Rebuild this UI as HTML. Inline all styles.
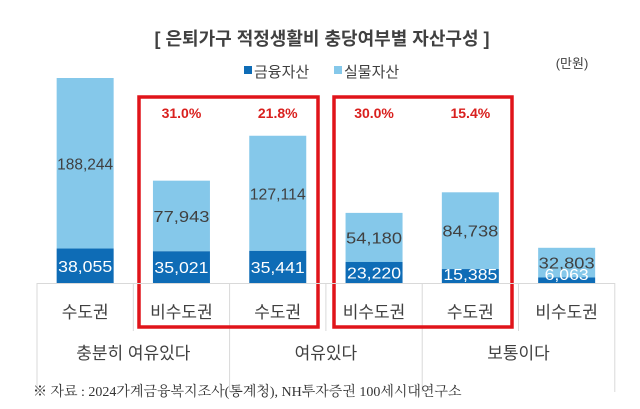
<!DOCTYPE html>
<html><head><meta charset="utf-8"><style>
body{margin:0;background:#fff;font-family:"Liberation Sans","Noto Sans CJK KR",sans-serif;}
#wrap{position:relative;width:640px;height:409px;overflow:hidden;}
</style></head><body>
<div id="wrap">
<svg id="svg" width="640" height="409">
<text x="322" y="45" text-anchor="middle" font-size="18" font-weight="bold" fill="#404040">[ 은퇴가구 적정생활비 충당여부별 자산구성 ]</text>
<text x="572" y="68" text-anchor="middle" font-size="13" fill="#404040">(만원)</text>
<g>
<rect x="244" y="66" width="8" height="8" fill="#0e6cb6"/>
<text x="254" y="77" font-size="15" fill="#404040">금융자산</text>
<rect x="334" y="66" width="8" height="8" fill="#85c8ea"/>
<text x="344" y="77" font-size="15" fill="#404040">실물자산</text>
</g>
<g id="bars"></g>
<g id="axis" stroke="#d9d9d9" stroke-width="1">
<line x1="37" y1="283.5" x2="615" y2="283.5"/>
</g>
<text x="33" y="396" font-size="14" fill="#333" font-family="'Liberation Serif','Noto Serif CJK SC',serif">※ 자료 : 2024가계금융복지조사(통계청), NH투자증권 100세시대연구소</text>
</svg>
</div>
<script>
const regions=["수도권","비수도권","수도권","비수도권","수도권","비수도권"];
const groups=["충분히 여유있다","여유있다","보통이다"];
const financial=[38055,35021,35441,23220,15385,6063];
const realAssets=[188244,77943,127114,54180,84738,32803];
const percents=["","31.0%","21.8%","30.0%","15.4%",""];
const NS="http://www.w3.org/2000/svg";
const svg=document.getElementById('bars');
const base=283, scale=205/226299, x0=37, colW=96.3, barW=57;
const y=v=>base-v*scale;
function mk(t,a){const e=document.createElementNS(NS,t);for(const k in a)e.setAttribute(k,a[k]);svg.appendChild(e);return e;}
const fmt=v=>v.toLocaleString('en-US');
regions.forEach((r,i)=>{
 const cx=x0+colW*(i+0.5), bx=cx-barW/2;
 const yf=y(financial[i]), yt=y(financial[i]+realAssets[i]);
 let e=mk('rect',{x:bx,y:yt,width:barW,height:yf-yt,fill:'#85c8ea'});
 
 
 e=mk('rect',{x:bx,y:yf,width:barW,height:base-yf,fill:'#0e6cb6'});
 
 
 e=mk('text',{x:cx,y:(yt+yf)/2+6,'text-anchor':'middle','font-size':16,fill:'#404040','textLength':56,'lengthAdjust':'spacingAndGlyphs'});
 e.textContent=fmt(realAssets[i]);
 
 
 e=mk('text',{x:cx,y:Math.min((yf+base)/2+6,base-3),'text-anchor':'middle','font-size':16,fill:'#fff','textLength':(financial[i]<10000?44:54),'lengthAdjust':'spacingAndGlyphs'});
 e.textContent=fmt(financial[i]);
 
 
 e=mk('text',{x:cx,y:318,'text-anchor':'middle','font-size':17,fill:'#404040'});
 e.textContent=r;
 
 
 if(percents[i]){
  e=mk('text',{x:cx,y:118,'text-anchor':'middle','font-size':14,'font-weight':'bold',fill:'#d9201e'});
  e.textContent=percents[i];
  
  
 }
 if(i>0){
  const gl=(i%2==0);
  e=mk('line',{x1:x0+colW*i,y1:283,x2:x0+colW*i,y2:gl?392:331,stroke:'#d9d9d9'});
  
  
 }
});
[0,6].forEach(k=>{const e=mk('line',{x1:x0+colW*k,y1:283,x2:x0+colW*k,y2:392,stroke:'#d9d9d9'});
 
 });
groups.forEach((g,j)=>{
 const e=mk('text',{x:x0+colW*(2*j+1),y:359,'text-anchor':'middle','font-size':17,fill:'#404040'});
 e.textContent=g;
 
 
});
[[139,318],[334,512]].forEach((b,k)=>{
 const e=mk('rect',{x:b[0],y:97,width:b[1]-b[0],height:230,fill:'none',stroke:'#e0141a','stroke-width':3.5});
 
 
});
</script>
</body></html>
